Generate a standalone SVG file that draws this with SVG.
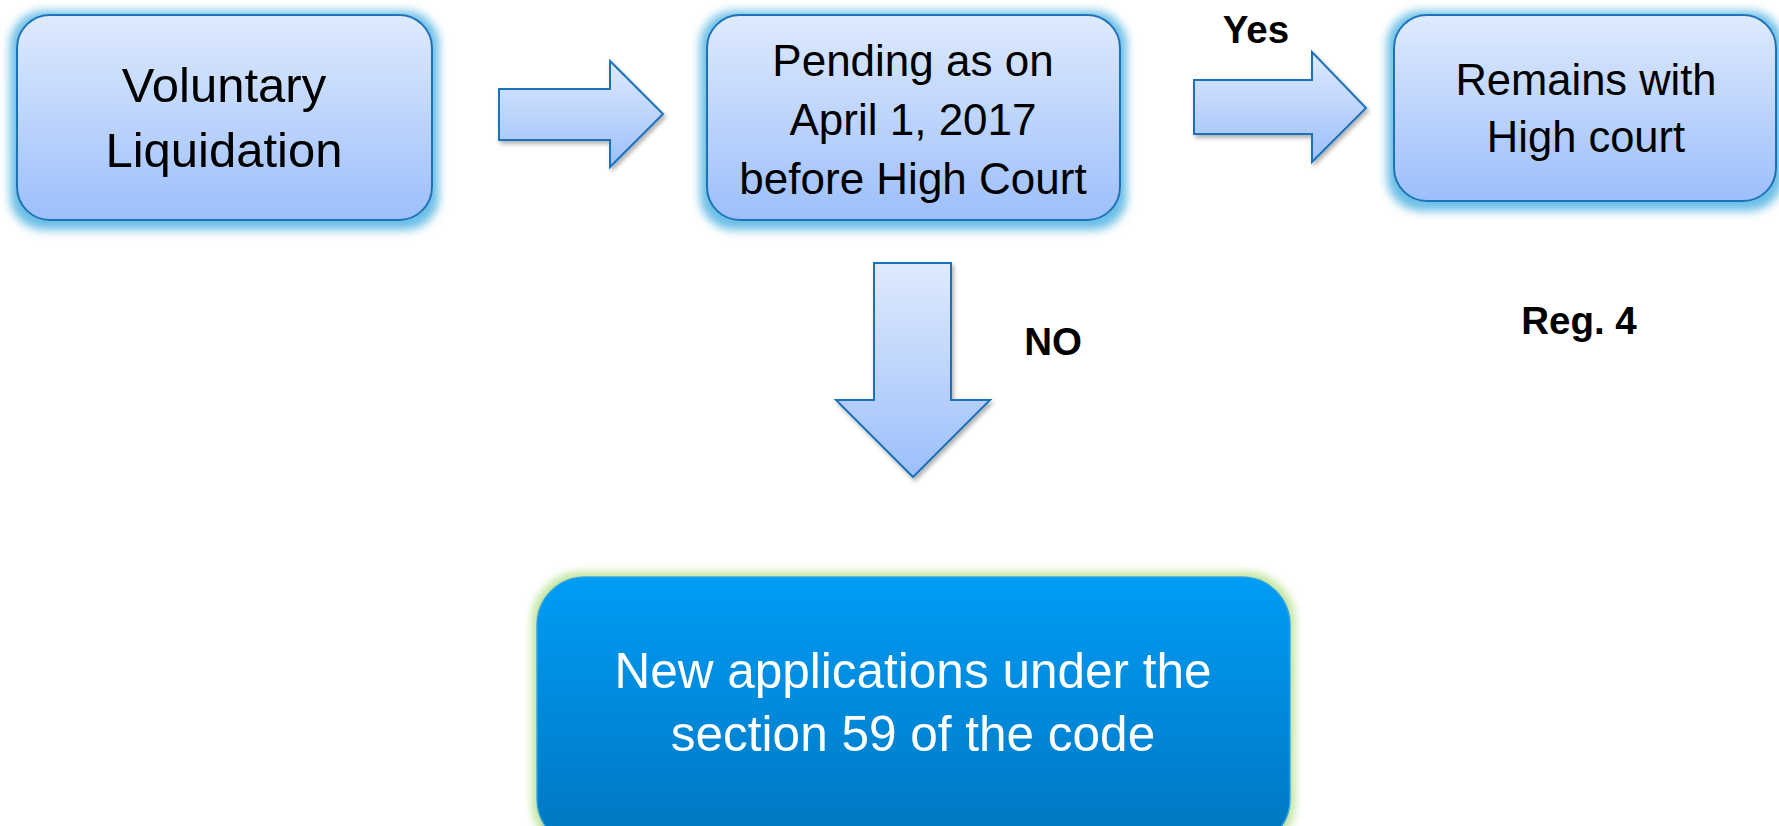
<svg xmlns="http://www.w3.org/2000/svg" width="1779" height="826" viewBox="0 0 1779 826">
<defs>
<linearGradient id="lg" x1="0" y1="0" x2="0" y2="1">
<stop offset="0" stop-color="#dfeafd"/>
<stop offset="1" stop-color="#9cbffb"/>
</linearGradient>
<linearGradient id="dg" x1="0" y1="0" x2="0" y2="1">
<stop offset="0" stop-color="#019cf6"/>
<stop offset="1" stop-color="#0076bf"/>
</linearGradient>
<filter id="glow" x="-15%" y="-25%" width="130%" height="150%">
<feMorphology in="SourceAlpha" operator="dilate" radius="6" result="d"/>
<feOffset in="d" dx="0" dy="3" result="o"/>
<feGaussianBlur in="o" stdDeviation="5" result="b"/>
<feFlood flood-color="#5ab7e4" flood-opacity="0.9"/>
<feComposite in2="b" operator="in" result="g"/>
<feMerge><feMergeNode in="g"/><feMergeNode in="SourceGraphic"/></feMerge>
</filter>
<filter id="gglow" x="-10%" y="-20%" width="120%" height="140%">
<feMorphology in="SourceAlpha" operator="dilate" radius="4" result="d"/>
<feGaussianBlur in="d" stdDeviation="4" result="b"/>
<feFlood flood-color="#b5e08e" flood-opacity="0.9"/>
<feComposite in2="b" operator="in" result="g"/>
<feMerge><feMergeNode in="g"/><feMergeNode in="SourceGraphic"/></feMerge>
</filter>
<filter id="ash" x="-20%" y="-20%" width="140%" height="140%">
<feDropShadow dx="2" dy="3" stdDeviation="2" flood-color="#000" flood-opacity="0.3"/>
</filter>
</defs>
<style>
.box{fill:url(#lg);stroke:#1f72b8;stroke-width:2;filter:url(#glow)}
.arr{fill:url(#lg);stroke:#1f72b8;stroke-width:2;stroke-linejoin:miter;filter:url(#ash)}
.t{font-family:"Liberation Sans",Arial,sans-serif;fill:#000;text-anchor:middle}
.lbl{font-family:"Liberation Sans",Arial,sans-serif;font-weight:bold;fill:#000;text-anchor:middle;font-size:38.5px}
.w{font-family:"Liberation Sans",Arial,sans-serif;fill:#fff;text-anchor:middle;font-size:49.5px}
</style>
<rect width="1779" height="826" fill="#fff"/>
<g id="connectors">
<path class="arr" d="M499,89 H610 V61 L663,114 L610,167 V140 H499 Z"/>
<path class="arr" d="M1194,80 H1312 V52 L1366,108 L1312,162 V134 H1194 Z"/>
<path class="arr" d="M874,263 H951 V400 H990 L913,477 L836,400 H874 Z"/>
</g>
<g id="node-voluntary">
<rect class="box" x="17" y="15" width="415" height="205" rx="33"/>
<text class="t" font-size="49" x="224" y="102">Voluntary</text>
<text class="t" font-size="49" x="224" y="167">Liquidation</text>
</g>
<g id="node-pending">
<rect class="box" x="707" y="15" width="413" height="205" rx="33"/>
<text class="t" font-size="44" x="913" y="76">Pending as on</text>
<text class="t" font-size="44" x="913" y="135">April 1, 2017</text>
<text class="t" font-size="44" x="913" y="194">before High Court</text>
</g>
<g id="node-remains">
<rect class="box" x="1394" y="15" width="382" height="186" rx="33"/>
<text class="t" font-size="43.5" x="1586" y="95">Remains with</text>
<text class="t" font-size="43.5" x="1586" y="152">High court</text>
</g>
<g id="node-new">
<rect x="537" y="577" width="753" height="270" rx="48" fill="url(#dg)" stroke="#2aa3e0" stroke-width="1.5" filter="url(#gglow)"/>
<text class="w" x="913" y="688">New applications under the</text>
<text class="w" x="913" y="751">section 59 of the code</text>
</g>
<g id="labels">
<text class="lbl" x="1256" y="43" font-size="37">Yes</text>
<text class="lbl" x="1053" y="355">NO</text>
<text class="lbl" x="1579" y="334">Reg. 4</text>
</g>
</svg>
